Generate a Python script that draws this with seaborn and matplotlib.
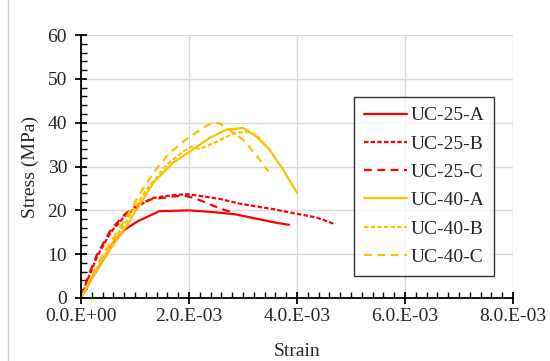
import numpy as np
import pandas as pd
import matplotlib
matplotlib.use("Agg")
import matplotlib.pyplot as plt
from matplotlib.lines import Line2D
from matplotlib.ticker import MultipleLocator
import seaborn as sns

# Strain values in units of 1e-3, stress in MPa
strain_25A = [0, 0.2, 0.4, 0.6, 0.8, 1.05, 1.45, 2.0, 2.45, 2.85, 3.25, 3.6, 3.85]
stress_25A = [0, 4.5, 8.5, 12.5, 15.5, 17.5, 19.8, 20.0, 19.6, 19.1, 18.1, 17.2, 16.7]

strain_25B = [0, 0.15, 0.3, 0.55, 0.8, 1.05, 1.33, 1.65, 1.96, 2.2, 2.57, 2.95, 3.55, 4.0, 4.35, 4.67]
stress_25B = [0, 5.0, 9.5, 15.0, 18.5, 21.0, 22.8, 23.4, 23.7, 23.3, 22.6, 21.5, 20.3, 19.2, 18.4, 17.0]

strain_25C = [0, 0.15, 0.3, 0.55, 0.8, 1.05, 1.3, 1.6, 1.9, 2.1, 2.3, 2.5, 2.65, 2.8]
stress_25C = [0, 5.5, 10.0, 15.5, 19.0, 21.3, 22.5, 23.0, 23.4, 22.8, 21.8, 20.8, 20.1, 19.6]

strain_40A = [0, 0.2, 0.45, 0.84, 1.34, 1.7, 1.98, 2.38, 2.69, 3.0, 3.24, 3.49, 3.74, 4.0]
stress_40A = [0, 4.5, 9.5, 16.4, 26.3, 30.8, 33.1, 36.5, 38.4, 38.8, 36.9, 33.9, 29.3, 24.0]

strain_40B = [0, 0.2, 0.45, 0.8, 1.2, 1.6, 1.9, 2.05, 2.2, 2.5, 2.8, 3.05, 3.25, 3.4]
stress_40B = [0, 4.8, 10.0, 16.8, 24.5, 30.5, 33.5, 34.5, 34.0, 35.6, 37.4, 38.0, 37.2, 35.0]

strain_40C = [0, 0.2, 0.42, 0.78, 1.05, 1.34, 1.64, 1.98, 2.26, 2.44, 2.57, 2.75, 3.0, 3.24, 3.47]
stress_40C = [0, 5.0, 10.2, 17.2, 23.0, 28.6, 33.1, 36.5, 38.8, 40.1, 39.8, 38.4, 36.1, 32.7, 28.9]

labels = ["UC-25-A", "UC-25-B", "UC-25-C", "UC-40-A", "UC-40-B", "UC-40-C"]
x_tick_labels = ["0.0.E+00", "2.0.E-03", "4.0.E-03", "6.0.E-03", "8.0.E-03"]

series = {
    "UC-25-A": (strain_25A, stress_25A),
    "UC-25-B": (strain_25B, stress_25B),
    "UC-25-C": (strain_25C, stress_25C),
    "UC-40-A": (strain_40A, stress_40A),
    "UC-40-B": (strain_40B, stress_40B),
    "UC-40-C": (strain_40C, stress_40C),
}

RED = "#FF0000"
GOLD = "#FFC000"
styles = {
    "UC-25-A": (RED, "-"),
    "UC-25-B": (RED, (0, (2.0, 1.0))),
    "UC-25-C": (RED, (0, (3.5, 2.5))),
    "UC-40-A": (GOLD, "-"),
    "UC-40-B": (GOLD, (0, (2.0, 1.0))),
    "UC-40-C": (GOLD, (0, (3.5, 2.5))),
}

sns.set_theme(style="white")
plt.rcParams["font.family"] = ["Liberation Serif", "DejaVu Serif"]
plt.rcParams["font.size"] = 14

fig = plt.figure(figsize=(5.5, 3.61), dpi=100)
ax = fig.add_axes([81 / 550, 1 - 298 / 361, 432 / 550, 263 / 361])

for name in labels:
    sx, sy = series[name]
    df = pd.DataFrame({"Strain": np.array(sx) * 1e-3, "Stress": sy})
    color, ls = styles[name]
    sns.lineplot(data=df, x="Strain", y="Stress", sort=False, estimator=None,
                 color=color, linewidth=1.6, ax=ax, label=name)
    ax.lines[-1].set_linestyle(ls)

ax.set_xlim(0, 8e-3)
ax.set_ylim(0, 60)
ax.set_xticks([0, 2e-3, 4e-3, 6e-3, 8e-3])
ax.set_xticklabels(x_tick_labels)
ax.set_yticks(range(0, 61, 10))
ax.xaxis.set_minor_locator(MultipleLocator(0.2e-3))
ax.yaxis.set_minor_locator(MultipleLocator(2))

ax.grid(True, which="major", color="#d9d9d9", linewidth=1.0)
ax.grid(False, which="minor")
ax.set_axisbelow(True)
for s in ["top", "right"]:
    ax.spines[s].set_visible(False)
for s in ["left", "bottom"]:
    ax.spines[s].set_color("black")
    ax.spines[s].set_linewidth(1.3)
    ax.spines[s].set_zorder(3)

ax.tick_params(axis="both", which="both", bottom=True, left=True, top=False, right=False)
ax.tick_params(axis="both", which="major", direction="inout", length=8, width=1.3,
               color="black", labelsize=14, labelcolor="#262626")
ax.tick_params(axis="both", which="minor", direction="in", length=4, width=1.0,
               color="black")
ax.tick_params(axis="y", which="major", pad=6)
ax.tick_params(axis="x", which="major", pad=3)

ax.set_xlabel("Strain", fontsize=14, color="#262626", labelpad=13)
ax.set_ylabel("Stress (MPa)", fontsize=14, color="#262626", labelpad=6)

leg = ax.legend(loc="upper left", bbox_to_anchor=((354 - 81) / 432, (298 - 97) / 263),
                frameon=True, fancybox=False, edgecolor="black", fontsize=14,
                handlelength=2.2, labelspacing=0.55, handletextpad=0.2,
                borderpad=0.5, borderaxespad=0)
leg.get_frame().set_linewidth(1.0)
for t in leg.get_texts():
    t.set_color("#262626")

fig.add_artist(Line2D([8 / 550, 8 / 550], [0, 1], transform=fig.transFigure,
                      color="#d0d0d0", linewidth=1.0))

fig.savefig("out.png", dpi=100)
